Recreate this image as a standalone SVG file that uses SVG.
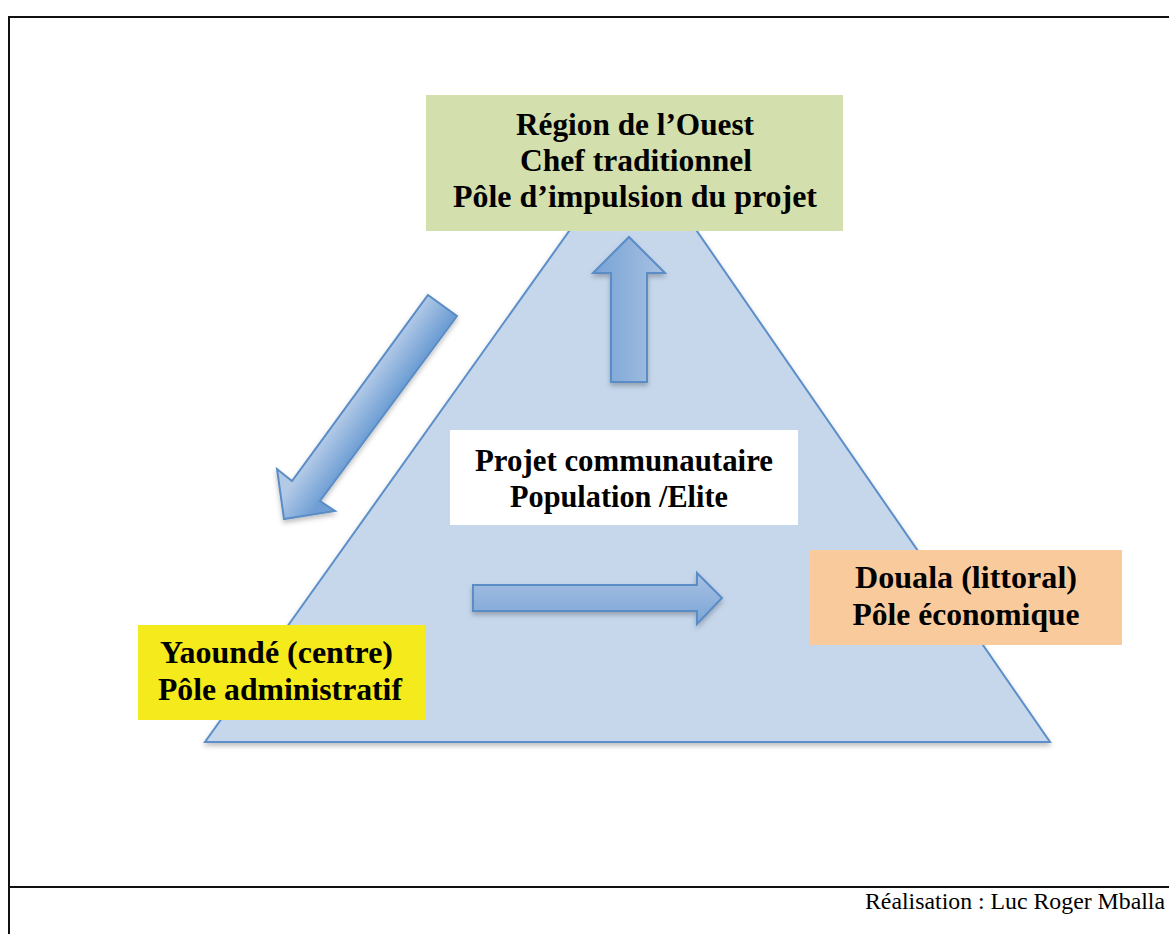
<svg xmlns="http://www.w3.org/2000/svg" width="1169" height="934" viewBox="0 0 1169 934">
<defs>
<style>
.t{font-family:"Liberation Serif","Times New Roman",serif;font-weight:bold;font-size:31.5px;fill:#000}
.f{font-family:"Liberation Serif","Times New Roman",serif;font-size:23px;fill:#000}
.arr{stroke:#5a8cc6;stroke-width:2;stroke-linejoin:miter}
.frame{stroke:#111;stroke-width:2;fill:none}
</style>
<linearGradient id="gH" x1="0" y1="0" x2="1" y2="0"><stop offset="0" stop-color="#77a3d6"/><stop offset="1" stop-color="#a8c1e2"/></linearGradient>
<linearGradient id="gV" x1="0" y1="0" x2="0" y2="1"><stop offset="0" stop-color="#a8c1e2"/><stop offset="1" stop-color="#7ba5d7"/></linearGradient>
<linearGradient id="gD" gradientUnits="userSpaceOnUse" x1="360" y1="388" x2="388" y2="408"><stop offset="0" stop-color="#b3cae7"/><stop offset="1" stop-color="#6e9ed4"/></linearGradient>
<filter id="sh" x="-10%" y="-10%" width="130%" height="130%"><feDropShadow dx="0" dy="3" stdDeviation="2.5" flood-color="#000" flood-opacity="0.25"/></filter>
</defs>
<rect width="1169" height="934" fill="#fff"/>
<g id="frame">
<line class="frame" x1="9" y1="17" x2="1169" y2="17"/>
<line class="frame" x1="9" y1="16" x2="9" y2="934"/>
<line class="frame" x1="9" y1="887" x2="1169" y2="887"/>
</g>
<g id="triangle">
<polygon points="634,140 1050,742 205,742" fill="#c6d7ec" stroke="#5b8fc9" stroke-width="2" filter="url(#sh)"/>
</g>
<g id="connectors">
<polygon class="arr" fill="url(#gH)" filter="url(#sh)" points="629,237 665,273 647,273 647,382 611,382 611,273 593,273"/>
<polygon class="arr" fill="url(#gV)" filter="url(#sh)" points="722,598 697,573 697,585 473,585 473,611 697,611 697,624"/>
<polygon class="arr" fill="url(#gD)" filter="url(#sh)" points="428,295 457,316 320,501 335,511 284,519 277,469 292,481"/>
</g>
<g id="node-ouest">
<rect x="426" y="95" width="417" height="136" fill="#d3dfad"/>
<text class="t" x="635" y="135" text-anchor="middle" textLength="238" lengthAdjust="spacingAndGlyphs">Région de l’Ouest</text>
<text class="t" x="636" y="171" text-anchor="middle" textLength="232" lengthAdjust="spacingAndGlyphs">Chef traditionnel</text>
<text class="t" x="635" y="207" text-anchor="middle" textLength="364" lengthAdjust="spacingAndGlyphs">Pôle d’impulsion du projet</text>
</g>
<g id="node-projet">
<rect x="450" y="430" width="348" height="95" fill="#fff"/>
<text class="t" x="624" y="471" text-anchor="middle" textLength="298" lengthAdjust="spacingAndGlyphs">Projet communautaire</text>
<text class="t" x="619" y="507" text-anchor="middle" textLength="218" lengthAdjust="spacingAndGlyphs">Population /Elite</text>
</g>
<g id="node-douala">
<rect x="810" y="550" width="312" height="95" fill="#f9cb9c"/>
<text class="t" x="966" y="588" text-anchor="middle" textLength="222" lengthAdjust="spacingAndGlyphs">Douala (littoral)</text>
<text class="t" x="966" y="625" text-anchor="middle" textLength="227" lengthAdjust="spacingAndGlyphs">Pôle économique</text>
</g>
<g id="node-yaounde">
<rect x="138" y="625" width="287" height="95" fill="#f5eb1c"/>
<text class="t" x="160" y="663" textLength="233" lengthAdjust="spacingAndGlyphs">Yaoundé (centre)</text>
<text class="t" x="158" y="700" textLength="244" lengthAdjust="spacingAndGlyphs">Pôle administratif</text>
</g>
<text class="f" x="1165" y="909" text-anchor="end" textLength="300" lengthAdjust="spacingAndGlyphs">Réalisation : Luc Roger Mballa</text>
</svg>
